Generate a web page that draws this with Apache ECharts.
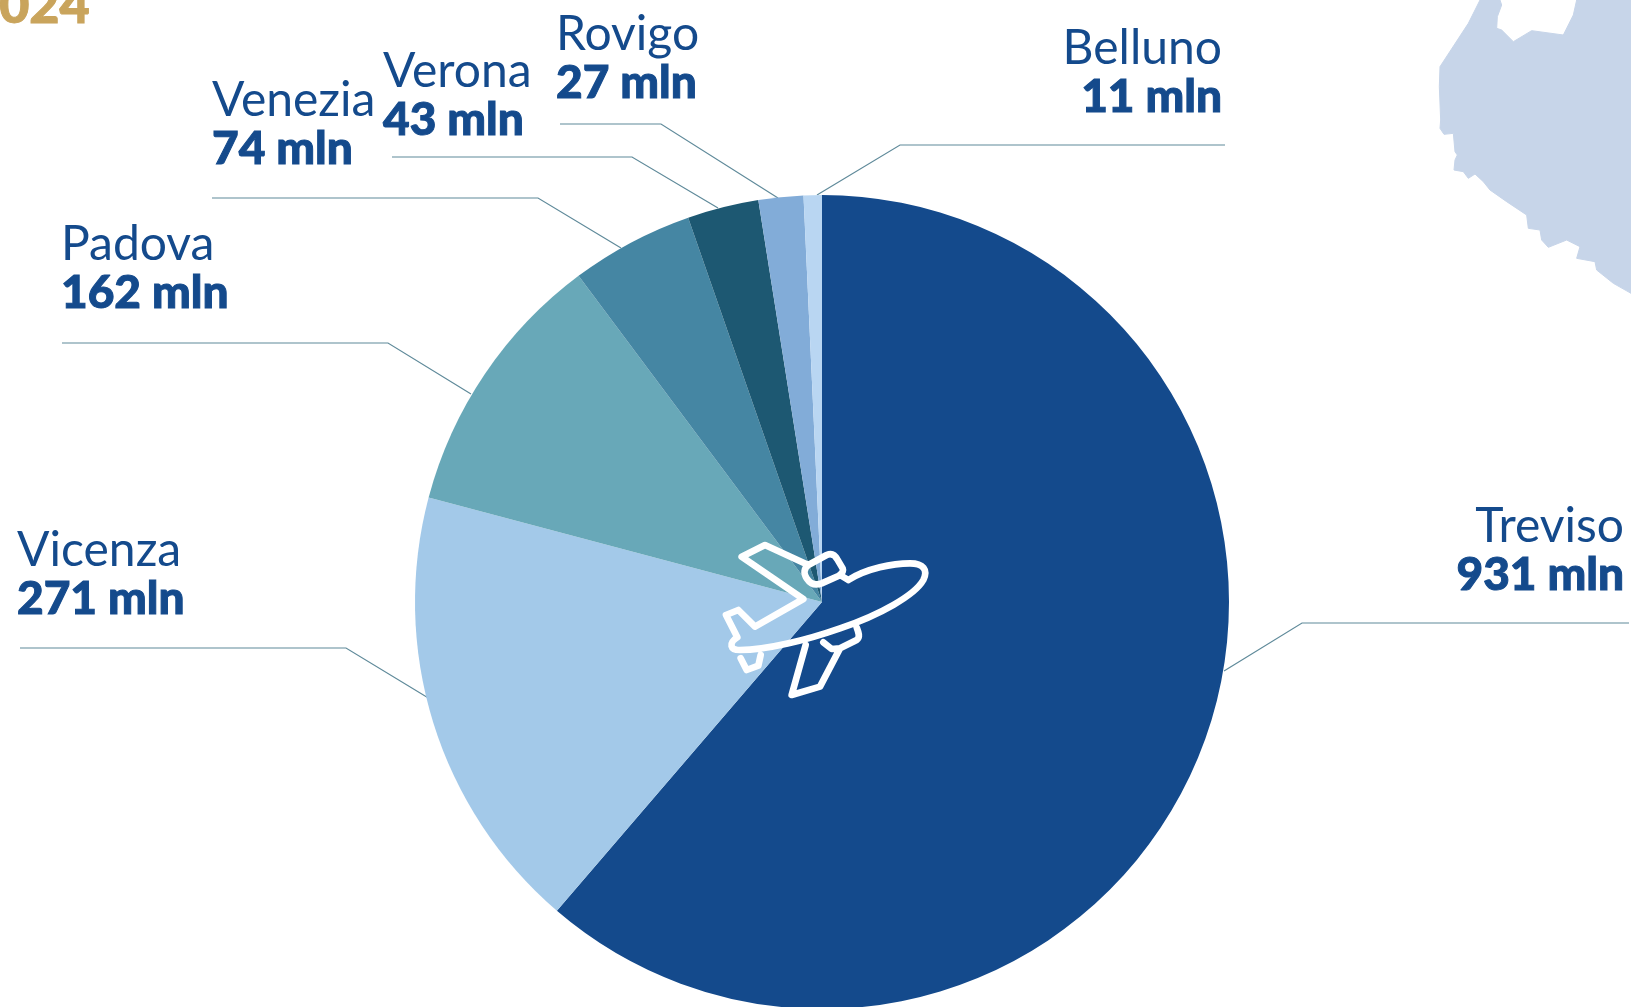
<!DOCTYPE html>
<html>
<head>
<meta charset="utf-8">
<title>Treviso</title>
<script src="https://cdn.jsdelivr.net/npm/echarts@6/dist/echarts.min.js"></script>
<style>
  html, body { margin: 0; padding: 0; background: #fff; overflow: hidden; }
  #chart { width: 1631px; height: 1007px; }
</style>
</head>
<body>
<div id="chart"></div>
<script>
const provinces = ['Treviso', 'Vicenza', 'Padova', 'Venezia', 'Verona', 'Rovigo', 'Belluno']
const millions = [931, 271, 162, 74, 43, 27, 11]
const sliceColors = ['#144a8c', '#a3c9e9', '#68a8b8', '#4586a3', '#1d5872', '#82acd8', '#b9d6f2']

// where each label goes, and its leader line: slice edge, elbow, end under the text
const labelSpots = [
  { x: 1624, y: 502, align: 'right', line: [[1224, 671], [1302, 623], [1629, 623]] },
  { x: 17, y: 526, align: 'left', line: [[430, 699], [346, 648], [20, 648]] },
  { x: 61, y: 220, align: 'left', line: [[471, 394], [388, 343], [62, 343]] },
  { x: 212, y: 76, align: 'left', line: [[621, 248], [538, 198], [212, 198]] },
  { x: 383, y: 47, align: 'left', line: [[718, 208], [632, 157], [392, 157]] },
  { x: 556, y: 10, align: 'left', line: [[778, 198], [661, 124], [560, 124]] },
  { x: 1222, y: 24, align: 'right', line: [[817, 195], [900, 145], [1225, 145]] }
]

const planePath = 'M625 240C680 205 760 190 810 190C850 190 865 210 850 240C825 285 720 345 600 385C500 420 380 450 300 450C270 450 265 430 292 412L258 345L295 330L345 380L490 297L305 170L375 135L505 195' +
  'M505 195L560 165C575 158 585 165 592 178L608 205C612 215 605 222 595 228L545 250C525 258 510 250 500 235C490 220 492 205 505 195Z' +
  'M600 225L625 240' +
  'M497 435L455 585L540 560L600 445L650 420C662 412 655 395 650 382M550 427L575 447L600 445' +
  'M302 475L320 510L355 497L362 465'

const italyPath = 'M240 0L205 70L120 200L118 260L122 360L120 385L132 403L160 400L165 455L172 465L165 480L162 510L190 515L205 535L225 522L250 545L270 570L320 605L380 645L385 685L420 690L425 720L445 742L500 720L540 740L530 775L585 785L590 810L640 850L693 880L693 0L530 0L520 45L490 105L395 92L340 125L305 90L290 85L292 50L305 15L300 0Z'

// the graphic component has no plain path type, so register both outlines as shapes
echarts.graphic.registerShape('planeOutline', echarts.graphic.extendPath(planePath))
echarts.graphic.registerShape('italyOutline', echarts.graphic.extendPath(italyPath))

const chart = echarts.init(document.getElementById('chart'))

chart.setOption({
  animation: false,
  backgroundColor: '#ffffff',
  graphic: [
    {
      type: 'italyOutline',
      x: 1400, y: 0, scaleX: 1 / 3, scaleY: 1 / 3, z: 1,
      style: { fill: '#c7d5e9', stroke: '#c7d5e9', lineWidth: 3, lineJoin: 'round' }
    },
    {
      type: 'text',
      x: -31, y: -20, z: 1,
      style: { text: '2024', fill: '#c9a45c', stroke: '#c9a45c', lineWidth: 1, font: '900 52px Lato' }
    },
    {
      type: 'planeOutline',
      x: 640, y: 500, scaleX: 1 / 3, scaleY: 1 / 3, z: 20,
      style: { fill: 'none', stroke: '#ffffff', lineWidth: 20, lineJoin: 'round', lineCap: 'round' }
    }
  ],
  series: [{
    type: 'pie',
    center: [822, 602],
    radius: [0, 407],
    startAngle: 90,
    clockwise: true,
    silent: true,
    data: provinces.map((name, i) => ({
      name,
      value: millions[i],
      itemStyle: { color: sliceColors[i] }
    })),
    label: {
      show: true,
      formatter: (p) => `{n|${p.name}}\n{v|${p.value} mln}`,
      rich: {
        n: { fontFamily: 'Lato', fontSize: 48, lineHeight: 49, color: '#144a8c' },
        v: { fontFamily: 'Lato', fontWeight: 900, fontSize: 46, lineHeight: 49, color: '#144a8c', textBorderColor: '#144a8c', textBorderWidth: 1 }
      }
    },
    labelLine: { show: true, lineStyle: { color: '#5f8a9a', width: 1.2 } },
    labelLayout: (p) => {
      const spot = labelSpots[p.dataIndex]
      return { x: spot.x, y: spot.y, align: spot.align, verticalAlign: 'top', labelLinePoints: spot.line }
    }
  }]
})
</script>
</body>
</html>
